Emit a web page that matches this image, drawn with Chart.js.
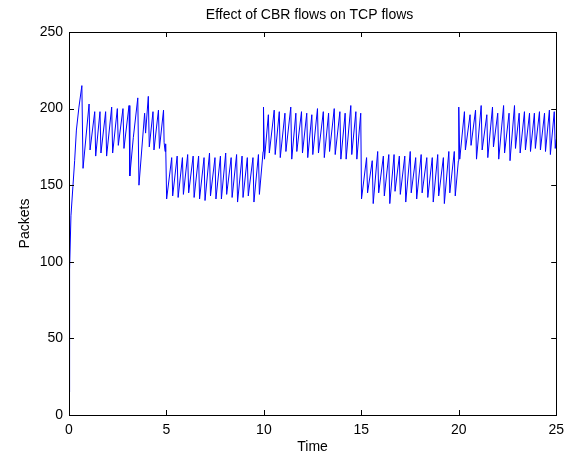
<!DOCTYPE html>
<html>
<head>
<meta charset="utf-8">
<script src="https://cdn.jsdelivr.net/npm/chart.js@4"></script>
<style>
    html, body { margin: 0; padding: 0; background: #fff; }
    #wrap { width: 571px; height: 456px; }
</style>
</head>
<body>
<div id="wrap"><canvas id="packetChart" width="571" height="456"></canvas></div>
<script>
// Values (time in s, queue in packets)
const timePoints = [
    0, 0.03, 0.1, 0.2, 0.29, 0.38, 0.51, 0.66, 0.72,
    1.03, 1.08, 1.32, 1.37, 1.59, 1.64, 1.88, 1.93, 2.19, 2.24, 2.48, 2.53, 2.77, 2.82,
    3.08, 3.12, 3.3, 3.53, 3.59, 3.88, 3.93, 4.07, 4.12, 4.31, 4.36, 4.59, 4.64,
    4.85, 4.88, 4.93, 4.96, 5.01,
    5.27, 5.32, 5.55, 5.60, 5.82, 5.87, 6.09, 6.14, 6.37, 6.42, 6.65, 6.70, 6.93, 6.98,
    7.21, 7.26, 7.49, 7.54, 7.77, 7.82, 8.04, 8.09, 8.32, 8.37, 8.60, 8.65, 8.88, 8.93,
    9.15, 9.20, 9.44, 9.49, 9.72, 9.77, 9.96, 9.98,
    10.03, 10.23, 10.28, 10.53, 10.58, 10.79, 10.84, 11.08, 11.13, 11.38, 11.43,
    11.64, 11.69, 11.93, 11.98, 12.20, 12.25, 12.46, 12.51, 12.75, 12.80, 13.05, 13.10,
    13.32, 13.37, 13.61, 13.66, 13.90, 13.95, 14.17, 14.22, 14.46, 14.51, 14.72, 14.77,
    14.97, 15.01,
    15.27, 15.32, 15.56, 15.61, 15.84, 15.89, 16.13, 16.18, 16.41, 16.46, 16.68, 16.73,
    16.95, 17.00, 17.23, 17.28, 17.51, 17.56, 17.79, 17.84, 18.07, 18.12, 18.36, 18.41,
    18.64, 18.69, 18.92, 18.97, 19.21, 19.26, 19.49, 19.54, 19.77, 19.82, 19.98, 20.0,
    20.05, 20.29, 20.34, 20.58, 20.63, 20.86, 20.91, 21.15, 21.20, 21.44, 21.49,
    21.73, 21.78, 22.00, 22.05, 22.30, 22.35, 22.58, 22.63, 22.86, 22.91, 23.10, 23.15,
    23.37, 23.42, 23.63, 23.68, 23.88, 23.93, 24.14, 24.19, 24.40, 24.45, 24.65, 24.70,
    24.90, 24.95, 25.0
];
const packetValues = [
    15, 95, 130, 149, 166, 186, 201, 215, 161,
    203, 173, 198, 169, 198, 171, 198, 169, 201, 171, 200, 176, 200, 174,
    202, 156, 181, 207, 150, 197, 184, 208, 175, 198, 173, 199, 174,
    199, 178, 172, 177, 141,
    168, 143, 169, 142, 168, 144, 170, 145, 169, 142, 169, 141, 168, 140,
    171, 143, 168, 141, 169, 141, 171, 144, 168, 142, 170, 139, 169, 142,
    168, 143, 168, 139, 170, 144, 172, 201,
    167, 196, 171, 199, 170, 198, 168, 197, 172, 201, 167,
    197, 172, 198, 171, 197, 168, 196, 170, 200, 171, 198, 168,
    197, 172, 200, 170, 198, 167, 197, 167, 202, 170, 198, 167,
    197, 141,
    168, 145, 166, 138, 172, 145, 169, 143, 170, 138, 170, 146,
    169, 144, 169, 139, 172, 145, 168, 141, 170, 145, 168, 142,
    168, 139, 170, 143, 168, 138, 172, 145, 172, 143, 166, 201,
    167, 198, 173, 196, 176, 199, 167, 202, 173, 196, 168,
    201, 175, 197, 167, 202, 171, 197, 166, 202, 174, 197, 171,
    198, 173, 197, 172, 197, 174, 198, 173, 197, 172, 199, 170,
    198, 174, 180
];
const xTicks = [0, 5, 10, 15, 20, 25];
const yTicks = [0, 50, 100, 150, 200, 250];
const chartTitle = 'Effect of CBR flows on TCP flows';

const fontFamily = '"Liberation Sans", Arial, sans-serif';

// MATLAB style box with inward ticks on all sides, title centred over the axes
const boxTicks = {
    id: 'boxTicks',
    afterDatasetsDraw(chart) {
        const { ctx, chartArea: a, scales: { x, y } } = chart;
        const len = 5;
        ctx.save();
        ctx.strokeStyle = '#000';
        ctx.lineWidth = 1;
        ctx.beginPath();
        xTicks.forEach(v => {
            const px = Math.round(x.getPixelForValue(v)) + 0.5;
            ctx.moveTo(px, a.bottom);
            ctx.lineTo(px, a.bottom - len);
            ctx.moveTo(px, a.top);
            ctx.lineTo(px, a.top + len);
        });
        yTicks.forEach(v => {
            const py = Math.round(y.getPixelForValue(v)) + 0.5;
            ctx.moveTo(a.left, py);
            ctx.lineTo(a.left + len, py);
            ctx.moveTo(a.right, py);
            ctx.lineTo(a.right - len, py);
        });
        ctx.stroke();
        ctx.strokeRect(Math.round(a.left) + 0.5, Math.round(a.top) + 0.5,
            Math.round(a.right - a.left), Math.round(a.bottom - a.top));

        ctx.fillStyle = '#000';
        ctx.font = '14px ' + fontFamily;
        ctx.textAlign = 'center';
        ctx.textBaseline = 'middle';
        ctx.fillText(chartTitle, (a.left + a.right) / 2 - 3, 15.5);
        ctx.restore();
    }
};

const ctx = document.getElementById('packetChart');
new Chart(ctx, {
    type: 'line',
    data: {
        datasets: [{
            data: timePoints.map((t, i) => ({ x: t, y: packetValues[i] })),
            borderColor: '#0000ff',
            borderWidth: 1,
            pointRadius: 0,
            tension: 0,
            fill: false
        }]
    },
    options: {
        responsive: false,
        animation: false,
        devicePixelRatio: 1,
        layout: { padding: { left: 0, right: 14, top: 32, bottom: 0 } },
        plugins: {
            legend: { display: false },
            tooltip: { enabled: false },
            title: { display: false }
        },
        scales: {
            x: {
                type: 'linear',
                min: 0,
                max: 25,
                afterBuildTicks: s => { s.ticks = xTicks.map(v => ({ value: v })); },
                afterFit: s => { s.height = 41; },
                grid: { display: false, drawTicks: false },
                border: { display: false },
                ticks: {
                    color: '#000',
                    font: { family: fontFamily, size: 14 },
                    padding: 7,
                    maxRotation: 0,
                    autoSkip: false
                },
                title: {
                    display: true,
                    text: 'Time',
                    color: '#000',
                    font: { family: fontFamily, size: 14 },
                    padding: { top: 0, bottom: 0 }
                }
            },
            y: {
                type: 'linear',
                min: 0,
                max: 250,
                afterBuildTicks: s => { s.ticks = yTicks.map(v => ({ value: v })); },
                afterFit: s => { s.width = 69; },
                grid: { display: false, drawTicks: false },
                border: { display: false },
                ticks: {
                    color: '#000',
                    font: { family: fontFamily, size: 14 },
                    padding: 6,
                    autoSkip: false
                },
                title: {
                    display: true,
                    text: 'Packets',
                    color: '#000',
                    font: { family: fontFamily, size: 14 },
                    padding: { top: 17, bottom: 0 }
                }
            }
        }
    },
    plugins: [boxTicks]
});
</script>
</body>
</html>
